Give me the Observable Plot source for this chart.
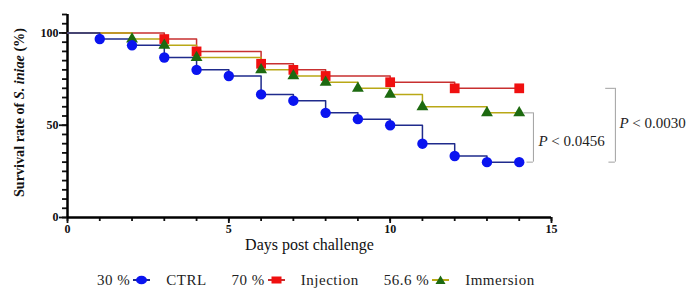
<!DOCTYPE html>
<html>
<head>
<meta charset="utf-8">
<script src="https://cdn.jsdelivr.net/npm/d3@7"></script>
<script src="https://cdn.jsdelivr.net/npm/@observablehq/plot@0.6"></script>
<style>
  body { margin: 0; background: #fff; }
  #chart { width: 691px; }
  .legend { display: flex; align-items: center; height: 22px; margin-top: 3px; padding-left: 97px; font-family: 'Liberation Serif', 'Times New Roman', serif; font-size: 15px; letter-spacing: 0.5px; color: #222; white-space: nowrap; }
  .legend .pct { margin-right: 3px; }
  .legend svg { display: block; margin-right: 16px; }
  .legend .name { margin-right: 25px; }
</style>
</head>
<body>
<div id="chart"></div>
<script>
// ---- data ----
const days = [0, 1, 2, 3, 4, 5, 6, 7, 8, 9, 10, 11, 12, 13, 14];
const ctrl      = [100, 96.7, 93.3, 86.7, 80, 76.7, 66.7, 63.3, 56.7, 53.3, 50, 40, 33.3, 30, 30];
const injection = [100, 100, 100, 96.7, 90, 90, 83.3, 80, 76.7, 76.7, 73.3, 73.3, 70, 70, 70];
const immersion = [100, 100, 96.7, 93.3, 86.7, 86.7, 80, 76.7, 73.3, 70, 66.7, 60, 60, 56.7, 56.7];
const ctrlEvents      = [1, 2, 3, 4, 5, 6, 7, 8, 9, 10, 11, 12, 13, 14];
const injectionEvents = [3, 4, 6, 7, 8, 10, 12, 14];
const immersionEvents = [2, 3, 4, 6, 7, 8, 9, 10, 11, 13, 14];
const groupNames = ["CTRL", "Injection", "Immersion"];
const survivalLabels = ["30 %", "70 %", "56.6 %"];
const xTicks = [0, 5, 10, 15];
const yTicks = [0, 50, 100];
const pLabels = ["P < 0.0456", "P < 0.0030"];

// ---- styling ----
const serif = "'Liberation Serif', 'Times New Roman', serif";
const lineColors = { CTRL: "#1f2b8c", Injection: "#c83030", Immersion: "#b9a816" };
const markColors = { CTRL: "#0a14f0", Injection: "#f01010", Immersion: "#1d6a10" };

const series = [
  { name: "CTRL", values: ctrl, events: ctrlEvents },
  { name: "Injection", values: injection, events: injectionEvents },
  { name: "Immersion", values: immersion, events: immersionEvents }
];
const rows = [];
const marks = [];
for (const s of series) {
  days.forEach((d, i) => {
    const r = { group: s.name, day: d, value: s.values[i] };
    rows.push(r);
    if (s.events.includes(d)) marks.push(r);
  });
}
const last = Object.fromEntries(series.map(s => [s.name, s.values[s.values.length - 1]]));
const lastDay = days[days.length - 1];

// comparison brackets (x in days, placed right of the curves)
const brackets = [
  { label: pLabels[0], x: lastDay + 0.44, lo: last.CTRL, hi: last.Immersion },
  { label: pLabels[1], x: lastDay + 2.98, lo: last.CTRL, hi: last.Injection }
];
const bracketEnds = brackets.flatMap(b => [
  { y: b.lo, x1: b.x - 0.2, x2: b.x },
  { y: b.hi, x1: b.x - 0.3, x2: b.x }
]);
brackets.forEach(b => b.mid = (b.lo + b.hi) / 2);

const drawOrder = ["Injection", "Immersion", "CTRL"];

const plot = Plot.plot({
  width: 691,
  height: 266,
  marginLeft: 67,
  marginRight: 140,
  marginTop: 14,
  marginBottom: 49,
  x: { domain: [0, 15] },
  y: { domain: [0, 110] },
  style: { fontFamily: serif, background: "white", color: "#111", overflow: "visible" },
  marks: [
    Plot.axisX({ ticks: d3.range(0, 16), tickSize: 4, tickFormat: () => "", strokeWidth: 1.8, label: null }),
    Plot.axisX({ ticks: xTicks, tickSize: 6, tickPadding: 1, fontWeight: "bold", fontSize: 12, strokeWidth: 1.8, label: null }),
    Plot.axisY({ ticks: d3.range(0, 111, 5), tickSize: 5, tickFormat: () => "", strokeWidth: 1.8, label: null }),
    Plot.axisY({ ticks: yTicks, tickSize: 8, tickPadding: 1, fontWeight: "bold", fontSize: 12, strokeWidth: 1.8, label: null }),
    Plot.ruleX([0], { stroke: "black", strokeWidth: 2.5 }),
    Plot.ruleY([0], { stroke: "black", strokeWidth: 2.5 }),
    ...drawOrder.map(g => Plot.line(rows.filter(r => r.group === g), {
      x: "day", y: "value", curve: "step-after", stroke: lineColors[g], strokeWidth: 1.5
    })),
    Plot.dot(marks.filter(r => r.group === "Injection"), { x: "day", y: "value", symbol: "square", r: 5.5, fill: markColors.Injection }),
    Plot.dot(marks.filter(r => r.group === "Immersion"), { x: "day", y: "value", symbol: "triangle", r: 4.4, fill: markColors.Immersion }),
    Plot.dot(marks.filter(r => r.group === "CTRL"), { x: "day", y: "value", symbol: "circle", r: 5.2, fill: markColors.CTRL }),
    Plot.ruleX(brackets, { x: "x", y1: "lo", y2: "hi", stroke: "#a0a0a0", strokeWidth: 1 }),
    Plot.ruleY(bracketEnds, { y: "y", x1: "x1", x2: "x2", stroke: "#a0a0a0", strokeWidth: 1 }),
    Plot.text(brackets.slice(0, 1), { x: "x", y: "mid", text: "label", textAnchor: "start", dx: 5, dy: 4, fontSize: 15, fill: "#222" }),
    Plot.text(brackets.slice(1), { x: "x", y: "mid", text: "label", textAnchor: "start", dx: 4, dy: -2, fontSize: 15, fill: "#222" }),
    Plot.text(["Days post challenge"], { frameAnchor: "bottom", dy: 32, fontSize: 16, fill: "#111" })
  ]
});

const svg = d3.select(plot);
// italic P in p-value annotations
svg.selectAll("text").filter(function () { return /^P </.test(this.textContent); }).each(function () {
  const t = this.textContent;
  this.textContent = "";
  const s = d3.select(this);
  s.append("tspan").attr("font-style", "italic").text("P");
  s.append("tspan").text(t.slice(1));
});
// y axis title
const yt = svg.append("text")
  .attr("transform", "translate(21,112.5) rotate(-90)")
  .attr("text-anchor", "middle")
  .attr("dominant-baseline", "middle")
  .attr("font-family", serif)
  .attr("font-weight", "bold")
  .attr("font-size", 15)
  .attr("fill", "#111")
  .attr("textLength", 169)
  .attr("lengthAdjust", "spacingAndGlyphs");
yt.append("tspan").text("Survival rate of ");
yt.append("tspan").attr("font-style", "italic").text("S. iniae");
yt.append("tspan").text(" (%)");

document.getElementById("chart").appendChild(plot);

// legend
const legend = document.createElement("div");
legend.className = "legend";
const symbols = {
  CTRL: `<ellipse cx="8.5" cy="6" rx="5.5" ry="4.3" fill="${markColors.CTRL}"/>`,
  Injection: `<rect x="3.5" y="2.5" width="10" height="7" fill="${markColors.Injection}"/>`,
  Immersion: `<path d="M8.5 1.5 L13.5 10 L3.5 10 Z" fill="${markColors.Immersion}"/>`
};
groupNames.forEach((g, i) => {
  legend.insertAdjacentHTML("beforeend",
    `<span class="pct">${survivalLabels[i]}</span>` +
    `<svg width="17" height="12"><line x1="0" x2="17" y1="6" y2="6" stroke="${lineColors[g]}" stroke-width="2"/>${symbols[g]}</svg>` +
    `<span class="name">${g}</span>`);
});
document.getElementById("chart").appendChild(legend);
</script>
</body>
</html>
